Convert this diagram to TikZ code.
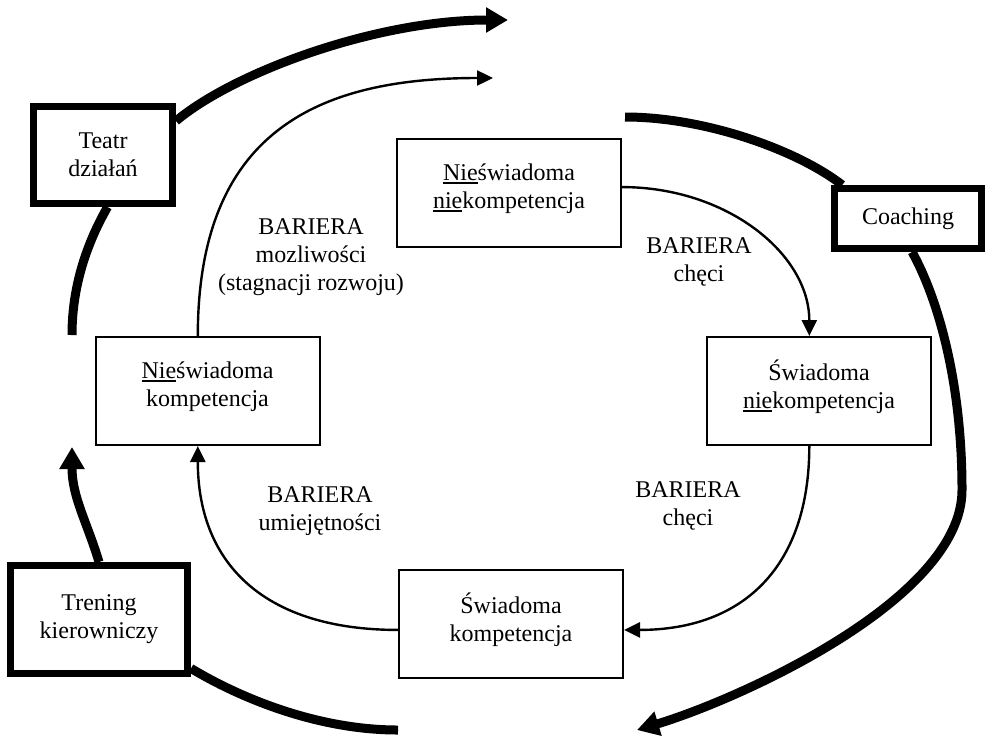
\documentclass[tikz,border=0pt]{standalone}
\usepackage{fontspec}
\setmainfont{Liberation Serif}
\usepackage{tikz}
\usetikzlibrary{arrows.meta,calc}
\newcommand{\podkresl}[1]{\setbox0\hbox{#1}\rlap{\rule[-2pt]{\wd0}{1pt}}\box0}

\begin{document}
\begin{tikzpicture}[x=0.5pt,y=-0.5pt,font=\fontsize{12}{14}\selectfont,
  stage/.style={draw,line width=1pt,minimum width=112pt,minimum height=54pt,align=center,text depth=7pt},
  method/.style={draw,line width=3.5pt,align=center},
  barrier/.style={align=center},
  heavyline/.style={line width=4.5pt},
  heavyarrow/.style={line width=4.5pt,-{Triangle[length=11pt,width=12pt]}},
  lightarrow/.style={line width=1.2pt,-{Triangle[length=8pt,width=7.5pt]}}]
\useasboundingbox (0,0) rectangle (988,739);
% etapy
\node[stage] (nn) at (509,193) {\podkresl{Nie}świadoma\\\podkresl{nie}kompetencja};
\node[stage] (sn) at (819,391) {Świadoma\\\podkresl{nie}kompetencja};
\node[stage] (sk) at (511,624) {Świadoma\\kompetencja};
\node[stage] (nk) at (207.5,391) {\podkresl{Nie}świadoma\\kompetencja};
% metody
\node[method,minimum width=69.5pt,minimum height=48.5pt] (teatr) at (103,155) {Teatr\\działań};
\node[method,minimum width=73.5pt,minimum height=30pt] (coaching) at (908,218.5) {Coaching};
\node[method,minimum width=88.5pt,minimum height=54pt] (trening) at (99,619.5) {Trening\\kierowniczy};
% bariery
\node[barrier] (b1) at (311,257) {BARIERA\\mozliwości\\(stagnacji rozwoju)};
\node[barrier] (b2) at (699,262) {BARIERA\\chęci};
\node[barrier] (b3) at (688,506) {BARIERA\\chęci};
\node[barrier] (b4) at (320,511) {BARIERA\\umiejętności};
% wolne konce
\coordinate (gora1) at (508,20);
\coordinate (gora2) at (493,78);
\coordinate (lewy) at (72,335);
\coordinate (lewy2) at (72,447);
\coordinate (prawy) at (625,117);
\coordinate (bok) at (962,490);
\coordinate (dol1) at (398,730);
\coordinate (dol2) at (637,730);
% grube luki
\draw[heavyarrow] (teatr.25) .. controls +(60,-50) and +(-130,0) .. (gora1);
\draw[heavyline] (teatr.-85) .. controls +(-20,35) and +(0,-50) .. (lewy);
\draw[heavyline] (prawy) .. controls +(80,0) and +(-45,-35) .. (coaching.153);
\draw[heavyarrow] (coaching.-83) .. controls +(25,45) and +(0,-110) .. (bok)
  .. controls +(0,110) and +(100,-30) .. (dol2);
\draw[heavyarrow] (trening.north) .. controls +(-12,-40) and +(0,50) .. (lewy2);
\draw[heavyline] (trening.-28) .. controls +(50,30) and +(-80,0) .. (dol1);
% cienkie luki
\draw[lightarrow] (nk.100) .. controls +(0,-206) and +(-173,0) .. (gora2);
\draw[lightarrow] (nn.3) .. controls +(105,0) and +(0,-82) .. (sn.100);
\draw[lightarrow] (sn.-100) .. controls +(0,120) and +(120,0) .. (sk.-3);
\draw[lightarrow] (sk.183) .. controls +(-131,0) and +(0,120) .. (nk.-100);
\end{tikzpicture}
\end{document}
